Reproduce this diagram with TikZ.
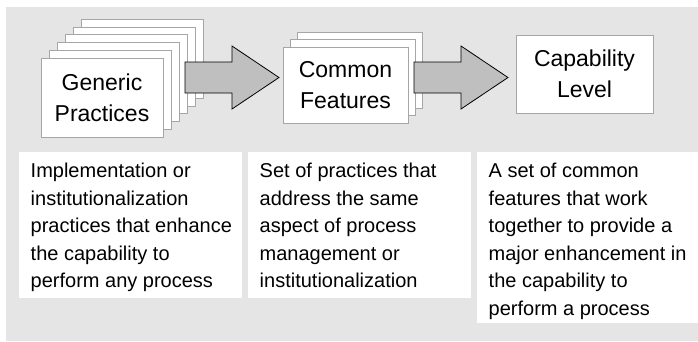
\documentclass[tikz,border=0pt]{standalone}
\usepackage{fontspec}
\setmainfont{Liberation Sans}
\usetikzlibrary{calc}
\tikzstyle{card} = [
	rectangle,
	draw=black!35,
	fill=white,
	align=center,
	inner sep=0pt,
	font=\fontsize{23}{31}\selectfont
]
\tikzstyle{descbox} = [
	rectangle,
	fill=white,
	anchor=north west,
	inner sep=0pt
]
\tikzstyle{desctext} = [
	anchor=north west,
	align=left,
	inner xsep=11.5pt,
	inner ysep=11pt,
	font=\fontsize{20}{27.5}\selectfont
]
\tikzstyle{bigarrow} = [draw=black, fill=black!25, line width=0.8pt]
\newcommand{\blockarrow}[2]{%
	\draw [bigarrow] ($(#1)+(0,-15.5)$) -- ($(#2)+(-47,-15.5)$) -- ($(#2)+(-47,-31.5)$)
		-- (#2) -- ($(#2)+(-47,31.5)$) -- ($(#2)+(-47,15.5)$) -- ($(#1)+(0,15.5)$) -- cycle;}

\begin{document}
\begin{tikzpicture}[x=1pt, y=-1pt]

		\useasboundingbox (0,0) rectangle (698,341);
		\fill [black!10] (6,7) rectangle (698,341);

		\foreach \k in {5,4,...,1}
			\node (gp\k) [card, minimum width=122pt, minimum height=79pt] at (102+8*\k, 97.5-7.8*\k) {};
		\node (gp0) [card, minimum width=122pt, minimum height=79pt] at (102,97.5) {Generic\\Practices};

		\foreach \k in {2,1}
			\node (cf\k) [card, minimum width=125pt, minimum height=76pt] at (345.5+7*\k, 85-7.5*\k) {};
		\node (cf0) [card, minimum width=125pt, minimum height=76pt] at (345.5,85) {Common\\Features};

		\node (level) [card, minimum width=137pt, minimum height=78pt] at (584.5,74) {Capability\\Level};

		\coordinate (a1tail) at (185,77.5);
		\coordinate (a1tip) at (279,77.5);
		\coordinate (a2tail) at (414,77.5);
		\coordinate (a2tip) at (508,77.5);
		\blockarrow{a1tail}{a1tip}
		\blockarrow{a2tail}{a2tip}

		\node (gpbox) [descbox, minimum width=223pt, minimum height=146pt] at (19,152) {};
		\node (cfbox) [descbox, minimum width=223pt, minimum height=146pt] at (248,152) {};
		\node (levelbox) [descbox, minimum width=221pt, minimum height=171pt] at (477,152) {};

		\node (gpdesc) [desctext] at (gpbox.north west)
			{Implementation or\\institutionalization\\practices that enhance\\the capability to\\perform any process};
		\node (cfdesc) [desctext] at (cfbox.north west)
			{Set of practices that\\address the same\\aspect of process\\management or\\institutionalization};
		\node (leveldesc) [desctext] at (levelbox.north west)
			{A set of common\\features that work\\together to provide a\\major enhancement in\\the capability to\\perform a process};
	\end{tikzpicture}
\end{document}
